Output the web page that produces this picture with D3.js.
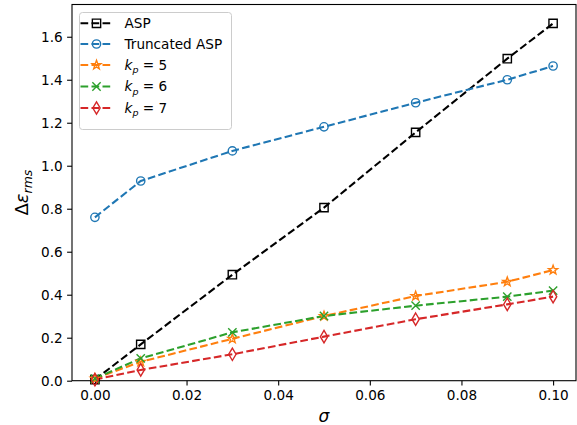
<!DOCTYPE html>
<html><head><meta charset="utf-8">
<script src="https://cdn.jsdelivr.net/npm/d3@7"></script>
<style>body{margin:0;background:#fff}svg{display:block;font-family:"DejaVu Sans",sans-serif}</style>
</head><body>
<svg id="c" width="577" height="425"></svg>
<script>
const sigma = [0, 0.01, 0.03, 0.05, 0.07, 0.09, 0.10];
const aspVals = [0.005, 0.169, 0.493, 0.805, 1.155, 1.498, 1.662];
const truncVals = [0.760, 0.929, 1.069, 1.181, 1.293, 1.400, 1.464];
const kp5Vals = [0.010, 0.088, 0.195, 0.301, 0.394, 0.460, 0.515];
const kp6Vals = [0.010, 0.104, 0.225, 0.301, 0.349, 0.391, 0.419];
const kp7Vals = [0.005, 0.050, 0.123, 0.205, 0.286, 0.355, 0.391];
const seriesNames = ["ASP", "Truncated ASP", "kp5", "kp6", "kp7"];
const xTicks = [0, 0.02, 0.04, 0.06, 0.08, 0.10];
const yTicks = [0, 0.2, 0.4, 0.6, 0.8, 1.0, 1.2, 1.4, 1.6];

const series = [
  {name: "ASP", vals: aspVals, color: "#000000", marker: "square", label: [{t: "ASP"}]},
  {name: "Truncated ASP", vals: truncVals, color: "#1f77b4", marker: "circle", label: [{t: "Truncated ASP"}]},
  {name: "kp5", vals: kp5Vals, color: "#ff7f0e", marker: "star", label: [{t: "k", i: true}, {t: "p", i: true, sub: true}, {t: " = 5"}]},
  {name: "kp6", vals: kp6Vals, color: "#2ca02c", marker: "x", label: [{t: "k", i: true}, {t: "p", i: true, sub: true}, {t: " = 6"}]},
  {name: "kp7", vals: kp7Vals, color: "#d62728", marker: "diamond", label: [{t: "k", i: true}, {t: "p", i: true, sub: true}, {t: " = 7"}]},
];

const L = 72, T = 4.5, R = 576, B = 380.7;
const svg = d3.select("#c");
const x = d3.scaleLinear().domain([-0.005, 0.105]).range([L, R]);
const y = d3.scaleLinear().domain([0, 1.75]).range([B, T]);

// axes
const xAxis = svg.append("g").attr("transform", `translate(0,${B})`)
  .call(d3.axisBottom(x).tickValues(xTicks).tickFormat(d3.format(".2f")).tickSize(4.9).tickPadding(4.5));
const yAxis = svg.append("g").attr("transform", `translate(${L},0)`)
  .call(d3.axisLeft(y).tickValues(yTicks).tickFormat(d3.format(".1f")).tickSize(4.9).tickPadding(4.5));
[xAxis, yAxis].forEach(a => {
  a.select(".domain").remove();
  a.selectAll("text").attr("font-size", 13.6).attr("fill", "#000").attr("font-family", "DejaVu Sans");
  a.selectAll("line").attr("stroke", "#000").attr("stroke-width", 1.1);
});
xAxis.selectAll("text").attr("dy", "0.75em");
svg.append("rect").attr("x", L).attr("y", T).attr("width", R - L).attr("height", B - T)
  .attr("fill", "none").attr("stroke", "#000").attr("stroke-width", 1.1);

// markers
const ms = 8.3;
function markerPath(type) {
  const h = ms / 2;
  switch (type) {
    case "square": return `M${-h},${-h}H${h}V${h}H${-h}Z`;
    case "circle": return d3.symbol(d3.symbolCircle, Math.PI * h * h)();
    case "star": {
      let p = "";
      for (let k = 0; k < 10; k++) {
        const r = k % 2 === 0 ? h * 1.15 : h * 0.47;
        const a = -Math.PI / 2 + k * Math.PI / 5;
        p += (k ? "L" : "M") + (r * Math.cos(a)).toFixed(2) + "," + (r * Math.sin(a)).toFixed(2);
      }
      return p + "Z";
    }
    case "x": return `M${-h},${-h}L${h},${h}M${-h},${h}L${h},${-h}`;
    case "diamond": return `M0,${-h * 1.5}L${h * 0.88},0L0,${h * 1.5}L${-h * 0.88},0Z`;
  }
}

const dash = "7.7,3.3";
const line = d3.line().x((d, i) => x(sigma[i])).y(d => y(d));
const plot = svg.append("g");
series.forEach(s => {
  plot.append("path").datum(s.vals).attr("d", line).attr("fill", "none")
    .attr("stroke", s.color).attr("stroke-width", 2.08).attr("stroke-dasharray", dash);
});
series.forEach(s => {
  plot.selectAll(null).data(s.vals).enter().append("path")
    .attr("transform", (d, i) => `translate(${x(sigma[i])},${y(d)})`)
    .attr("d", markerPath(s.marker)).attr("fill", "none")
    .attr("stroke", s.color).attr("stroke-width", 1.39);
});

// axis labels
svg.append("text").attr("x", (L + R) / 2).attr("y", 422).attr("text-anchor", "middle")
  .attr("font-size", 17).attr("font-style", "italic")
  .attr("font-family", "DejaVu Sans").text("σ");
const yl = svg.append("text").attr("transform", `translate(28,${(T + B) / 2}) rotate(-90)`)
  .attr("text-anchor", "middle").attr("font-size", 18).attr("font-family", "DejaVu Sans");
yl.append("tspan").text("Δ");
yl.append("tspan").attr("font-style", "italic").text("ε");
yl.append("tspan").attr("font-style", "italic").attr("font-size", 12.5).attr("dy", 4).text("rms");

// legend
const lg = svg.append("g");
lg.append("rect").attr("x", 79.5).attr("y", 12.5).attr("width", 152).attr("height", 117).attr("rx", 3)
  .attr("fill", "#fff").attr("fill-opacity", 0.8).attr("stroke", "#cccccc").attr("stroke-width", 1);
const rowY = [23.3, 44, 65, 86.5, 108];
series.forEach((s, k) => {
  const cy = rowY[k];
  lg.append("line").attr("x1", 80.5).attr("x2", 112.5).attr("y1", cy).attr("y2", cy)
    .attr("stroke", s.color).attr("stroke-width", 2.08).attr("stroke-dasharray", dash);
  lg.append("path").attr("transform", `translate(96.5,${cy})`).attr("d", markerPath(s.marker))
    .attr("fill", "none").attr("stroke", s.color).attr("stroke-width", 1.39);
  const t = lg.append("text").attr("x", 124.5).attr("y", cy).attr("dy", "0.36em")
    .attr("font-size", 13.6).attr("font-family", "DejaVu Sans");
  s.label.forEach(p => {
    const ts = t.append("tspan").text(p.t);
    if (p.i) ts.attr("font-style", "italic");
    if (p.sub) ts.attr("font-size", 9.5).attr("dy", 3.5);
    else if (s.label.length > 1 && p.t.startsWith(" ")) ts.attr("dy", -3.5);
  });
});
</script>
</body></html>
